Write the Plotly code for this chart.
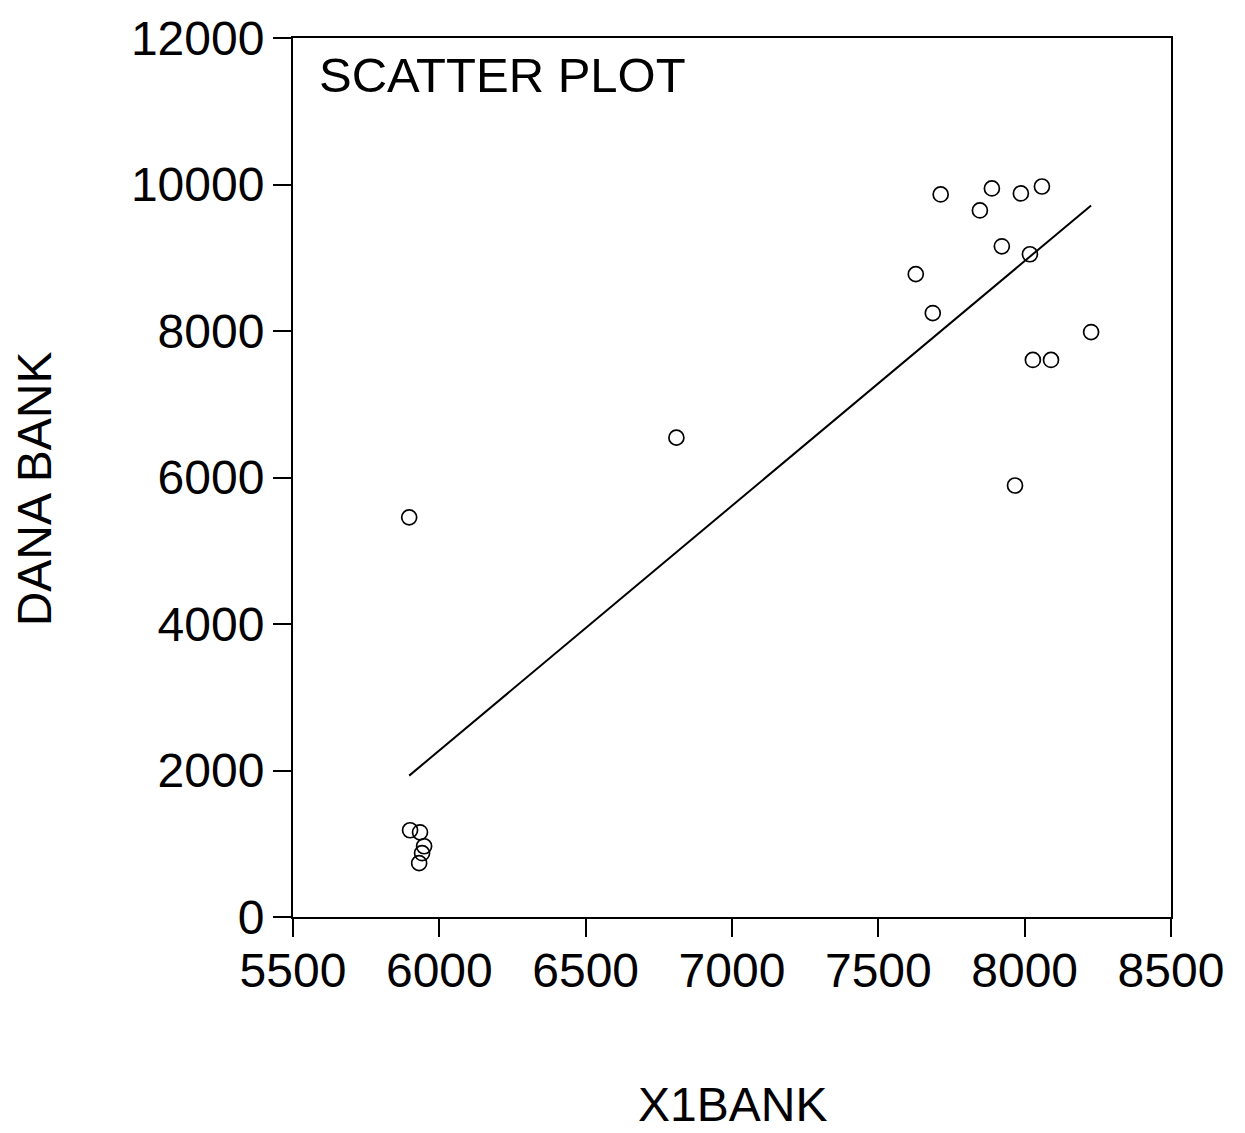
import plotly.graph_objects as go

# Data
x1bank = [5897, 6810, 7628, 7686, 7713, 7847, 7888, 7922, 7987, 8018,
          8059, 8227, 8028, 8090, 7967, 5900, 5934, 5948, 5941, 5931]
dana_bank = [5456, 6544, 8776, 8245, 9864, 9646, 9946, 9156, 9878, 9048,
             9973, 7986, 7605, 7605, 5891, 1184, 1156, 966, 871, 735]

# fitted line endpoints
fit_x = [5897, 8227]
fit_y = [1930, 9714]

x_ticks = [5500, 6000, 6500, 7000, 7500, 8000, 8500]
y_ticks = [0, 2000, 4000, 6000, 8000, 10000, 12000]

FONT = "Liberation Sans, Arial, sans-serif"

fig = go.Figure()
fig.add_trace(go.Scatter(
    x=fit_x, y=fit_y, mode="lines",
    line=dict(color="black", width=2), showlegend=False, hoverinfo="skip"))
fig.add_trace(go.Scatter(
    x=x1bank, y=dana_bank, mode="markers",
    marker=dict(symbol="circle-open", size=15, color="black",
                line=dict(color="black", width=1.7)),
    showlegend=False))

axis_common = dict(
    showline=True, linecolor="black", linewidth=2, mirror=True,
    ticks="outside", ticklen=18, tickwidth=2, tickcolor="black",
    showgrid=False, zeroline=False, tickformat="d",
    tickfont=dict(family=FONT, size=48, color="black"),
)

fig.update_xaxes(range=[5500, 8500], tickvals=x_ticks,
                 ticklabelstandoff=-8, **axis_common)
fig.update_yaxes(range=[0, 12000], tickvals=y_ticks,
                 ticklabelstandoff=-1, **axis_common)

fig.update_layout(
    width=1245, height=1133,
    margin=dict(l=293, r=74, t=35, b=216),
    plot_bgcolor="white", paper_bgcolor="white",
    font=dict(family=FONT, color="black"),
    annotations=[
        dict(text="SCATTER PLOT", xref="paper", yref="paper",
             x=0.027, y=0.958, xanchor="left", yanchor="middle",
             showarrow=False, font=dict(family=FONT, size=49, color="black")),
        dict(text="DANA BANK", xref="paper", yref="paper",
             x=-0.294, y=0.4875, xanchor="center", yanchor="middle",
             textangle=-90, showarrow=False,
             font=dict(family=FONT, size=48, color="black")),
        dict(text="X1BANK", xref="paper", yref="paper",
             x=0.5, y=-0.213, xanchor="center", yanchor="middle",
             showarrow=False, font=dict(family=FONT, size=48, color="black")),
    ],
)

fig.write_html("out.html")
